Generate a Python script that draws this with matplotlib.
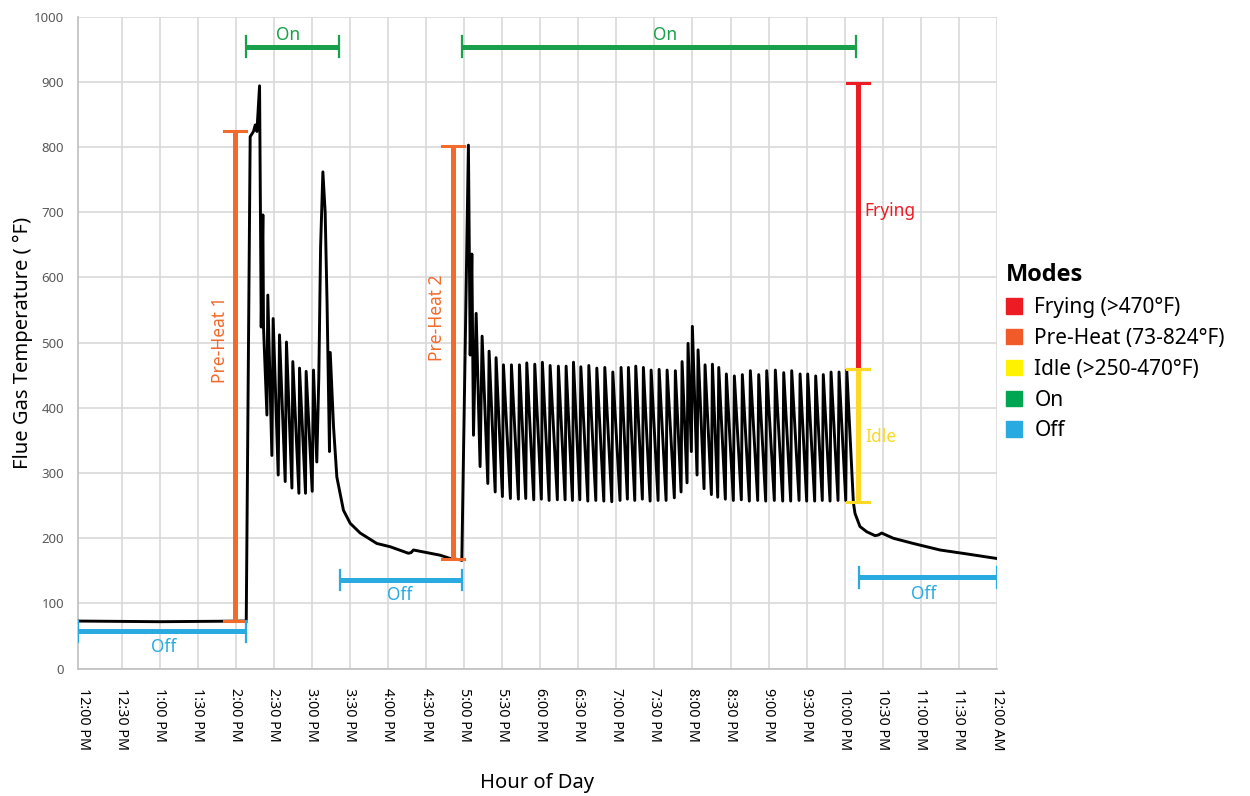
import matplotlib
matplotlib.use("Agg")
from matplotlib import pyplot as plt
from matplotlib.patches import Patch
from matplotlib.font_manager import FontProperties

plt.rcParams["font.family"] = ["Noto Sans", "DejaVu Sans"]

# flue gas temperature, time in minutes after 12:00 PM
time_min = [
    -4.3, 60, 128.3, 131.4, 134.0, 135.4, 136.7, 138.8, 140.1, 141.4, 141.9, 144.6, 145.3,
    148.5, 149.5, 153.5, 154.5, 159.0, 160.0, 164.3, 165.0, 169.8, 170.3, 175.0, 175.5,
    180.3, 181.3, 183.9, 185.5, 186.9, 188.7, 190.5, 192.0, 193.9, 194.5, 197.1, 199.7,
    204.9, 210.2, 218.1, 231.2, 241.7, 256.1, 258.2, 260.1, 268.0, 281.1, 289.0, 296.9,
    298.2, 303.4, 304.8, 306.1, 307.4, 309.5, 312.6, 314.2, 318.7, 319.7, 324.5, 325.2,
    330.2, 331.0,
]
temp_f = [
    73, 72, 73, 816, 824, 834, 824, 894, 524, 696, 524, 389, 573,
    327, 537, 297, 512, 287, 501, 277, 471, 269, 461, 269, 456,
    272, 458, 317, 448, 647, 762, 700, 560, 333, 485, 371, 294,
    243, 223, 208, 192, 187, 177, 178, 182, 179, 174, 169, 167,
    166, 803, 481, 636, 358, 545, 310, 510, 284, 487, 271, 477,
    264, 466,
]

# steady cycling: trough time/value followed by peak time/value
trough_min = [
    336.5, 342.8, 348.6, 354.9, 360.9, 367.0, 373.5, 379.6, 385.4, 391.2, 397.5, 403.8,
    410.1, 416.4, 422.9, 428.7, 434.5, 440.5, 446.6, 452.9, 459.2, 465.7, 471.0, 475.7,
    479.1, 483.6, 489.1, 494.9, 499.9, 505.9, 512.2, 518.5, 524.8, 531.4, 537.7, 544.5,
    551.1, 557.4, 564.0, 570.0, 576.3, 582.3, 588.4, 594.7, 600.8,
]
trough_f = [
    261, 260, 261, 259, 260, 258, 259, 259, 258, 259, 257, 258,
    257, 256, 258, 260, 258, 260, 257, 258, 258, 262, 271, 285,
    333, 297, 276, 267, 263, 260, 258, 259, 257, 258, 257, 258,
    257, 257, 258, 257, 257, 258, 257, 258, 258,
]
peak_min = [
    337.3, 343.6, 349.4, 355.7, 361.7, 367.8, 374.3, 380.4, 386.2, 392.0, 398.3, 404.6,
    410.9, 417.2, 423.7, 429.5, 435.3, 441.3, 447.4, 453.7, 460.0, 466.5, 471.8, 476.5,
    479.9, 484.4, 489.9, 495.7, 500.7, 506.7, 513.0, 519.3, 525.6, 532.2, 538.5, 545.3,
    551.9, 558.2, 564.8, 570.8, 577.1, 583.1, 589.2, 595.5, 601.6,
]
peak_f = [
    466, 466, 469, 467, 470, 465, 464, 464, 470, 463, 465, 461,
    462, 455, 462, 462, 464, 462, 458, 459, 458, 457, 471, 499,
    525, 489, 466, 467, 462, 452, 449, 451, 457, 451, 457, 458,
    454, 457, 452, 452, 449, 451, 455, 455, 458,
]

# cool-down after shut off
cool_min = [606.8, 608.1, 612.0, 617.3, 623.9, 626.5, 629.1, 638.3, 654.0, 675.1, 696.1, 719.7]
cool_f = [255, 238, 218, 210, 204, 205, 208, 200, 192, 182, 176, 169]

tick_min = list(range(0, 721, 30))
tick_labels = ["12:00 PM", "12:30 PM", "1:00 PM", "1:30 PM", "2:00 PM", "2:30 PM", "3:00 PM",
               "3:30 PM", "4:00 PM", "4:30 PM", "5:00 PM", "5:30 PM", "6:00 PM", "6:30 PM",
               "7:00 PM", "7:30 PM", "8:00 PM", "8:30 PM", "9:00 PM", "9:30 PM", "10:00 PM",
               "10:30 PM", "11:00 PM", "11:30 PM", "12:00 AM"]

C_RED = "#ED1C24"
C_ORANGE = "#F26A2C"
C_YELLOW = "#FDD825"
C_GREEN = "#18A04A"
C_BLUE = "#29ABE2"

# build the full series
xs = list(time_min)
ys = list(temp_f)
for tt, tv, pt, pv in zip(trough_min, trough_f, peak_min, peak_f):
    xs += [tt, pt]
    ys += [tv, pv]
xs += cool_min
ys += cool_f

fig = plt.figure(figsize=(12.5, 7.96), dpi=100)
ax = fig.add_axes([0.0624, 0.16, 0.7352, 0.819])

ax.plot(xs, ys, color="black", lw=2.1, zorder=3)

# mode bars: vertical (x, y0, y1), horizontal (x0, x1, y)
cap = 8.7
def vbar(x, y0, y1, color):
    ax.plot([x, x], [y0, y1], color=color, lw=3.6, solid_capstyle="butt", zorder=4)
    for y in (y0, y1):
        ax.plot([x - cap, x + cap], [y, y], color=color, lw=2.2, zorder=4)

def hbar(x0, x1, y, color):
    ax.plot([x0, x1], [y, y], color=color, lw=3.6, solid_capstyle="butt", zorder=4)
    for x in (x0, x1):
        ax.plot([x, x], [y - 16, y + 16], color=color, lw=1.6, zorder=4)

vbar(119.1, 73, 824, C_ORANGE)
vbar(291.6, 168, 802, C_ORANGE)
vbar(610.7, 459, 898, C_RED)
vbar(610.7, 255, 459, C_YELLOW)
hbar(128.3, 201.3, 954, C_GREEN)
hbar(298.5, 608.9, 954, C_GREEN)
hbar(-4.3, 128.0, 57, C_BLUE)
hbar(201.8, 298.2, 136, C_BLUE)
hbar(611.3, 719.7, 140, C_BLUE)

fs = 12.5
ax.text(107.8, 504, "Pre-Heat 1", color=C_ORANGE, rotation=90, ha="center", va="center", fontsize=fs)
ax.text(278.7, 538, "Pre-Heat 2", color=C_ORANGE, rotation=90, ha="center", va="center", fontsize=fs)
ax.text(161.3, 972, "On", color=C_GREEN, ha="center", va="center", fontsize=fs)
ax.text(458.3, 972, "On", color=C_GREEN, ha="center", va="center", fontsize=fs)
ax.text(63.0, 33, "Off", color=C_BLUE, ha="center", va="center", fontsize=fs)
ax.text(249.6, 113, "Off", color=C_BLUE, ha="center", va="center", fontsize=fs)
ax.text(662.5, 115, "Off", color=C_BLUE, ha="center", va="center", fontsize=fs)
ax.text(615.8, 702, "Frying", color=C_RED, ha="left", va="center", fontsize=fs)
ax.text(615.8, 355, "Idle", color=C_YELLOW, ha="left", va="center", fontsize=fs)

ax.set_xlim(-4.3, 720)
ax.set_ylim(0, 1000)
ax.set_yticks(range(0, 1001, 100))
ax.set_xticks(tick_min)
ax.set_xticklabels(tick_labels, rotation=-90, fontsize=10.3)
ax.tick_params(axis="y", labelsize=9.5, colors="#595959", length=0, pad=10)
ax.tick_params(axis="x", length=0, pad=14, labelcolor="black")

ax.grid(axis="y", color="#D9D9D9", lw=1.2)
for t in tick_min[1:]:
    ax.axvline(t, color="#D9D9D9", lw=1.2, zorder=0)
for s in ("top", "right"):
    ax.spines[s].set_visible(False)
for s in ("left", "bottom"):
    ax.spines[s].set_color("#BFBFBF")
    ax.spines[s].set_linewidth(1.2)

ax.set_ylabel("Flue Gas Temperature ( °F)", fontsize=14.5, labelpad=1)
ax.set_xlabel("Hour of Day", fontsize=14.5, labelpad=16)

handles = [
    Patch(color=C_RED, label="Frying (>470°F)"),
    Patch(color="#F15A29", label="Pre-Heat (73-824°F)"),
    Patch(color="#FFF200", label="Idle (>250-470°F)"),
    Patch(color="#00A651", label="On"),
    Patch(color=C_BLUE, label="Off"),
]
leg = fig.legend(handles=handles, loc="upper left", bbox_to_anchor=(0.8, 0.677),
                 frameon=False, fontsize=15, title="Modes",
                 handlelength=0.75, handleheight=0.75, handletextpad=0.6,
                 labelspacing=0.47, borderaxespad=0, borderpad=0.3)
leg.get_title().set_fontproperties(FontProperties(family=["Open Sans", "DejaVu Sans"],
                                                  weight="bold", size=17))
leg._legend_box.align = "left"

fig.savefig("out.png", dpi=100)
